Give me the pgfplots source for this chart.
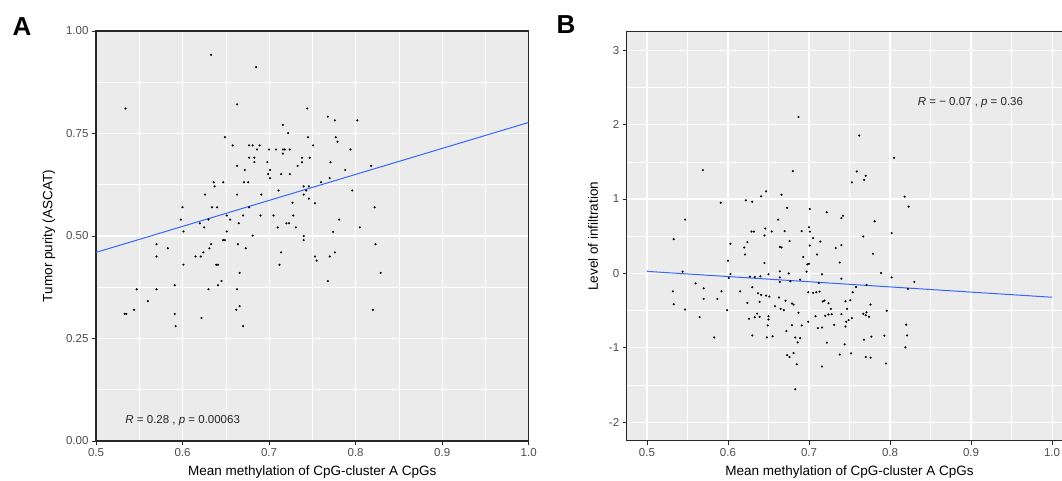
\documentclass[border=0pt]{standalone}
\usepackage{pgfplots}
\pgfplotsset{compat=1.18}
\usepackage{fontspec}
\setmainfont{Liberation Sans}
\definecolor{panelbg}{HTML}{EBEBEB}
\definecolor{fitblue}{HTML}{3366FF}
\definecolor{ticktext}{HTML}{4D4D4D}
\newcommand{\ticksize}{\fontsize{11.5pt}{13pt}\selectfont}
\newcommand{\titlesize}{\fontsize{13.5pt}{15pt}\selectfont}
\pgfplotsset{gg/.style={
  scale only axis, axis background/.style={fill=panelbg},
  grid=both, major grid style={white,line width=1.1pt}, minor grid style={white,line width=0.55pt},
  axis line style={black!85,line width=1.1pt},
  tick align=outside, major tick length=4pt, minor tick length=0pt,
  tick style={black!85,line width=0.8pt}, tick pos=left,
  tick label style={font=\ticksize,text=ticktext},
  label style={font=\titlesize},
  x label style={at={(axis description cs:0.5,0)},anchor=center,yshift=-31pt},
  dots/.style={only marks,mark=*,mark size=0.85pt,black},
}}
\begin{document}
\begin{tikzpicture}
\useasboundingbox (0,0) rectangle (1062pt,481pt);
\node[font=\bfseries\fontsize{26pt}{28pt}\selectfont] at (22pt,454pt) {A};
\node[font=\bfseries\fontsize{26pt}{28pt}\selectfont] at (566pt,456pt) {B};
% panel A
\begin{axis}[gg,at={(96pt,40pt)},anchor=south west,width=432.7pt,height=410pt,
  xmin=0.5,xmax=1.0,ymin=0,ymax=1,
  xtick={0.5,0.6,0.7,0.8,0.9,1.0},xticklabels={0.5,0.6,0.7,0.8,0.9,1.0},
  minor xtick={0.55,0.65,0.75,0.85,0.95},
  ytick={0,0.25,0.5,0.75,1},yticklabels={0.00,0.25,0.50,0.75,1.00},
  minor ytick={0.125,0.375,0.625,0.875},
  xlabel={Mean methylation of CpG-cluster A CpGs},ylabel={Tumor purity (ASCAT)},
  y label style={at={(axis description cs:0,0.5)},anchor=center,yshift=47pt}]
\addplot[dots] coordinates {
(0.534,0.811)(0.633,0.942)(0.685,0.912)(0.663,0.821)(0.744,0.811)(0.716,0.771)
(0.722,0.751)(0.649,0.741)(0.745,0.741)(0.658,0.721)(0.677,0.721)(0.681,0.721)
(0.689,0.721)(0.686,0.711)(0.700,0.711)(0.708,0.711)(0.716,0.711)(0.718,0.711)
(0.724,0.711)(0.716,0.701)(0.677,0.691)(0.683,0.691)(0.683,0.680)(0.738,0.691)
(0.738,0.680)(0.698,0.680)(0.663,0.671)(0.733,0.671)(0.701,0.661)(0.672,0.661)
(0.699,0.651)(0.714,0.651)(0.724,0.651)(0.701,0.641)(0.636,0.631)(0.647,0.631)
(0.671,0.631)(0.676,0.631)(0.637,0.621)(0.740,0.621)(0.746,0.621)(0.711,0.611)
(0.626,0.601)(0.663,0.601)(0.691,0.601)(0.740,0.601)(0.746,0.591)(0.727,0.581)
(0.600,0.570)(0.634,0.570)(0.640,0.570)(0.677,0.570)(0.651,0.550)(0.670,0.550)
(0.690,0.550)(0.705,0.550)(0.728,0.550)(0.598,0.540)(0.630,0.540)(0.655,0.540)
(0.620,0.531)(0.665,0.531)(0.720,0.531)(0.723,0.531)(0.625,0.521)(0.710,0.521)
(0.731,0.521)(0.601,0.511)(0.651,0.511)(0.681,0.501)(0.740,0.500)
(0.740,0.490)(0.570,0.480)(0.633,0.480)(0.647,0.490)(0.649,0.490)(0.664,0.480)
(0.583,0.470)(0.631,0.470)(0.673,0.470)(0.714,0.460)(0.624,0.460)(0.570,0.450)
(0.615,0.450)(0.621,0.450)(0.601,0.430)(0.639,0.430)(0.641,0.430)(0.712,0.430)
(0.666,0.410)(0.645,0.390)(0.641,0.380)(0.591,0.380)(0.547,0.370)(0.570,0.370)
(0.630,0.370)(0.663,0.370)(0.560,0.341)(0.544,0.320)(0.662,0.320)(0.666,0.329)
(0.533,0.310)(0.535,0.310)(0.591,0.310)(0.622,0.300)(0.592,0.280)(0.670,0.280)
(0.823,0.480)(0.753,0.450)(0.755,0.440)(0.770,0.450)(0.776,0.460)(0.829,0.410)
(0.768,0.390)(0.820,0.320)
(0.768,0.791)(0.776,0.782)(0.802,0.782)(0.777,0.741)(0.779,0.730)(0.751,0.721)
(0.794,0.711)(0.747,0.691)(0.771,0.680)(0.818,0.671)(0.788,0.661)(0.770,0.641)
(0.760,0.631)(0.743,0.611)(0.796,0.611)(0.753,0.580)(0.822,0.570)(0.781,0.540)
(0.805,0.521)(0.774,0.510)};
\addplot[fitblue,line width=1pt,no marks] coordinates {(0.5,0.460)(1.0,0.777)};
\node[anchor=west,font=\ticksize,text=black!85] at (axis cs:0.530,0.05) {\textit{R} = 0.28 , \textit{p} = 0.00063};
\end{axis}
% panel B
\begin{axis}[gg,at={(626.7pt,40.3pt)},anchor=south west,width=445.6pt,height=409pt,
  xmin=0.475,xmax=1.025,ymin=-2.25,ymax=3.25,
  xtick={0.5,0.6,0.7,0.8,0.9,1.0},xticklabels={0.5,0.6,0.7,0.8,0.9,1.0},
  minor xtick={0.55,0.65,0.75,0.85,0.95},
  ytick={-2,-1,0,1,2,3},yticklabels={-2,-1,0,1,2,3},
  minor ytick={-1.5,-0.5,0.5,1.5,2.5},
  xlabel={Mean methylation of CpG-cluster A CpGs},ylabel={Level of infiltration},
  y label style={at={(axis description cs:0,0.5)},anchor=center,yshift=33.7pt}]
\addplot[dots] coordinates {
(0.687,2.102)(0.569,1.388)(0.680,1.375)(0.547,0.723)(0.591,0.950)(0.622,0.982)
(0.630,0.964)(0.641,1.036)(0.647,1.103)(0.666,1.058)(0.673,0.880)(0.701,0.866)
(0.722,0.822)(0.662,0.723)(0.700,0.621)(0.629,0.562)(0.632,0.562)(0.646,0.602)
(0.654,0.562)(0.670,0.568)(0.691,0.568)(0.701,0.562)(0.645,0.509)(0.705,0.474)
(0.533,0.460)
(0.603,0.398)(0.620,0.348)(0.624,0.420)(0.621,0.254)(0.645,0.139)(0.664,0.357)
(0.666,0.348)(0.676,0.434)(0.693,0.220)(0.701,0.375)(0.714,0.428)(0.710,0.254)
(0.698,0.120)(0.700,0.130)(0.697,0.023)(0.716,-0.013)(0.600,0.170)(0.544,0.023)
(0.603,-0.008)(0.601,-0.062)(0.627,-0.044)(0.633,-0.048)(0.640,-0.040)(0.650,-0.013)
(0.664,0.027)(0.664,-0.054)(0.675,0.000)(0.664,-0.115)(0.677,-0.107)(0.689,-0.084)
(0.532,-0.241)(0.533,-0.415)(0.547,-0.486)(0.560,-0.134)(0.570,-0.201)(0.570,-0.343)
(0.565,-0.589)(0.583,-0.861)(0.587,-0.343)(0.592,-0.241)(0.599,-0.495)(0.615,-0.241)
(0.624,-0.396)(0.630,-0.187)(0.637,-0.268)(0.639,-0.383)(0.641,-0.289)(0.647,-0.299)
(0.651,-0.312)(0.658,-0.442)(0.663,-0.325)(0.665,-0.477)(0.669,-0.495)(0.671,-0.369)
(0.679,-0.406)(0.681,-0.419)(0.626,-0.610)(0.633,-0.589)(0.636,-0.540)(0.639,-0.584)
(0.650,-0.576)(0.650,-0.620)(0.649,-0.700)(0.630,-0.834)(0.648,-0.861)(0.655,-0.847)
(0.672,-0.776)(0.679,-0.696)(0.687,-0.530)(0.691,-0.700)(0.699,-0.651)(0.683,-0.861)
(0.689,-0.870)(0.686,-0.928)(0.673,-1.098)(0.676,-1.124)(0.681,-1.071)(0.685,-1.222)
(0.683,-1.557)(0.699,-0.254)(0.705,-0.262)(0.709,-0.254)(0.713,-0.245)(0.717,-0.379)
(0.719,-0.365)(0.724,-0.402)(0.708,-0.576)(0.711,-0.736)(0.716,-0.727)(0.722,-0.932)
(0.716,-1.253)(0.720,-0.570)(0.724,-0.553)(0.712,-0.129)
(0.762,1.853)(0.805,1.553)(0.759,1.371)(0.770,1.312)(0.768,1.258)(0.753,1.224)
(0.818,1.031)(0.823,0.897)(0.740,0.742)(0.742,0.776)(0.781,0.701)(0.802,0.541)
(0.767,0.495)
(0.733,0.340)(0.740,0.380)(0.738,0.147)(0.779,0.264)(0.789,0.005)(0.802,-0.054)
(0.830,-0.115)(0.822,-0.209)(0.740,-0.071)(0.758,-0.182)(0.754,-0.254)(0.771,-0.155)
(0.745,-0.375)(0.751,-0.361)(0.776,-0.419)(0.727,-0.477)(0.747,-0.477)(0.728,-0.549)
(0.740,-0.549)(0.767,-0.544)(0.770,-0.562)(0.771,-0.522)(0.774,-0.584)(0.796,-0.503)
(0.753,-0.602)(0.749,-0.629)(0.746,-0.651)(0.731,-0.691)(0.745,-0.714)(0.820,-0.691)
(0.821,-0.834)(0.793,-0.838)(0.777,-0.851)(0.768,-0.892)(0.744,-0.955)(0.819,-0.995)
(0.738,-1.092)(0.752,-1.075)(0.770,-1.124)(0.776,-1.133)(0.795,-1.213)};
\addplot[fitblue,line width=1pt,no marks] coordinates {(0.5,0.027)(1.0,-0.321)};
\node[anchor=west,font=\ticksize,text=black!85] at (axis cs:0.830,2.30) {\textit{R} = − 0.07 , \textit{p} = 0.36};
\end{axis}
\end{tikzpicture}
\end{document}
